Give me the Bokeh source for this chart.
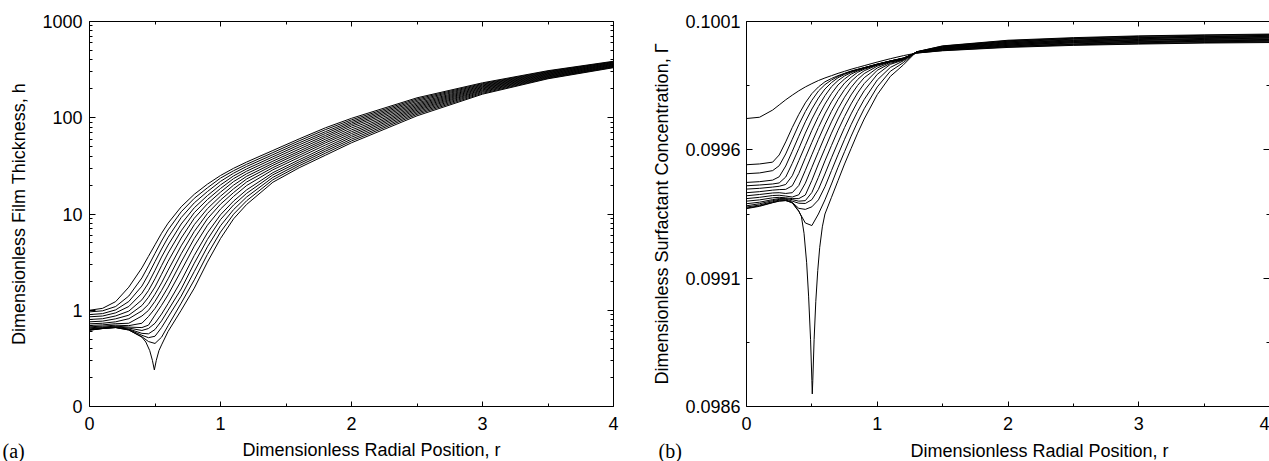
import numpy as np
from bokeh.plotting import figure
from bokeh.layouts import row, column
from bokeh.models import (Range1d, FixedTicker, LinearAxis, LogAxis,
                          CustomJSTickFormatter, PrintfTickFormatter, Label)
from bokeh.embed import file_html
from bokeh.resources import INLINE

FONT = "Liberation Sans"
SERIF = "Liberation Serif"

# ---------------- panel (a): film thickness h (values given as log10 h) ----------------
r_h = [0, 0.1, 0.2, 0.3, 0.4, 0.45, 0.5, 0.55, 0.6, 0.7, 0.8, 0.9, 1.0, 1.1, 1.2,
       1.4, 1.6, 1.8, 2.0, 2.5, 3.0, 3.5, 4.0]
r_h_dip = [0, 0.1, 0.2, 0.3, 0.4, 0.43, 0.46, 0.48, 0.495, 0.51, 0.53, 0.55, 0.6, 0.7,
           0.8, 0.9, 1.0, 1.1, 1.2, 1.4, 1.6, 1.8, 2.0, 2.5, 3.0, 3.5, 4.0]
log10_h_dip = [-0.207, -0.19, -0.18, -0.205, -0.28, -0.33, -0.42, -0.52, -0.62, -0.52, -0.42,
               -0.36, -0.22, 0.0, 0.23, 0.5, 0.745, 0.95, 1.10, 1.33, 1.48, 1.61, 1.74, 2.02,
               2.245, 2.405, 2.52]
log10_h_1 = [-0.207, -0.19, -0.18, -0.205, -0.275, -0.325, -0.345, -0.28, -0.16, 0.074, 0.316, 0.58, 0.812, 0.998, 1.138, 1.356, 1.501, 1.631, 1.759, 2.035, 2.254, 2.411, 2.525]
log10_h_2 = [-0.203, -0.188, -0.178, -0.2, -0.26, -0.285, -0.27, -0.18, -0.07, 0.147, 0.403, 0.659, 0.878, 1.046, 1.177, 1.381, 1.522, 1.652, 1.778, 2.049, 2.264, 2.417, 2.53]
log10_h_3 = [-0.2, -0.186, -0.176, -0.195, -0.24, -0.245, -0.2, -0.11, 0.0, 0.221, 0.489, 0.735, 0.942, 1.094, 1.215, 1.407, 1.542, 1.672, 1.798, 2.063, 2.273, 2.423, 2.534]
log10_h_4 = [-0.193, -0.182, -0.172, -0.185, -0.21, -0.19, -0.135, -0.04, 0.07, 0.306, 0.57, 0.804, 0.992, 1.134, 1.251, 1.43, 1.563, 1.693, 1.817, 2.077, 2.282, 2.429, 2.539]
log10_h_5 = [-0.182, -0.175, -0.165, -0.175, -0.18, -0.155, -0.05, 0.051, 0.161, 0.411, 0.666, 0.883, 1.051, 1.183, 1.296, 1.459, 1.588, 1.716, 1.836, 2.09, 2.29, 2.435, 2.544]
log10_h_6 = [-0.172, -0.165, -0.155, -0.16, -0.135, -0.066, 0.019, 0.126, 0.241, 0.501, 0.746, 0.95, 1.102, 1.223, 1.333, 1.482, 1.61, 1.738, 1.855, 2.103, 2.299, 2.441, 2.549]
log10_h_7 = [-0.158, -0.152, -0.14, -0.135, -0.06, -0.002, 0.093, 0.205, 0.327, 0.587, 0.819, 1.005, 1.145, 1.262, 1.364, 1.506, 1.632, 1.757, 1.874, 2.116, 2.307, 2.447, 2.554]
log10_h_8 = [-0.141, -0.135, -0.12, -0.088, -0.006, 0.061, 0.166, 0.284, 0.416, 0.669, 0.889, 1.055, 1.185, 1.3, 1.392, 1.527, 1.652, 1.777, 1.894, 2.129, 2.315, 2.453, 2.558]
log10_h_9 = [-0.12, -0.113, -0.089, -0.051, 0.049, 0.135, 0.242, 0.374, 0.508, 0.75, 0.956, 1.106, 1.227, 1.337, 1.419, 1.549, 1.674, 1.797, 1.913, 2.142, 2.323, 2.459, 2.563]
log10_h_10 = [-0.096, -0.088, -0.059, -0.009, 0.108, 0.204, 0.327, 0.463, 0.594, 0.825, 1.014, 1.15, 1.265, 1.368, 1.445, 1.572, 1.696, 1.816, 1.93, 2.155, 2.331, 2.465, 2.568]
log10_h_11 = [-0.068, -0.06, -0.027, 0.039, 0.177, 0.283, 0.415, 0.553, 0.677, 0.896, 1.065, 1.191, 1.302, 1.396, 1.469, 1.594, 1.718, 1.836, 1.946, 2.169, 2.339, 2.471, 2.573]
log10_h_12 = [-0.045, -0.035, 0.004, 0.091, 0.251, 0.372, 0.505, 0.636, 0.758, 0.963, 1.116, 1.233, 1.339, 1.424, 1.494, 1.616, 1.739, 1.855, 1.962, 2.182, 2.347, 2.477, 2.578]
log10_h_13 = [-0.017, -0.006, 0.039, 0.148, 0.336, 0.461, 0.591, 0.719, 0.835, 1.023, 1.163, 1.272, 1.373, 1.45, 1.517, 1.638, 1.76, 1.876, 1.978, 2.195, 2.355, 2.483, 2.582]
log10_h_14 = [0.0, 0.02, 0.09, 0.24, 0.44, 0.56, 0.68, 0.80, 0.905, 1.075, 1.205, 1.31, 1.40, 1.475, 1.54, 1.66, 1.78, 1.895, 1.994, 2.207, 2.363, 2.489, 2.587]
h_curves = [log10_h_1, log10_h_2, log10_h_3, log10_h_4, log10_h_5, log10_h_6, log10_h_7,
            log10_h_8, log10_h_9, log10_h_10, log10_h_11, log10_h_12, log10_h_13, log10_h_14]

# ---------------- panel (b): surfactant concentration Gamma ----------------
r_g = [0, 0.1, 0.2, 0.25, 0.3, 0.35, 0.4, 0.45, 0.5, 0.55, 0.6, 0.65, 0.7, 0.75, 0.8,
       0.85, 0.9, 1.0, 1.1, 1.2, 1.3, 1.5, 2.0, 2.5, 3.0, 3.5, 4.0]
r_g_dip = [0, 0.1, 0.2, 0.25, 0.3, 0.35, 0.4, 0.42, 0.44, 0.46, 0.475, 0.49, 0.5, 0.503,
           0.507, 0.517, 0.53, 0.545, 0.56, 0.58, 0.6, 0.65, 0.7, 0.75, 0.8, 0.85, 0.9,
           1.0, 1.1, 1.2, 1.3, 1.5, 2.0, 2.5, 3.0, 3.5, 4.0]
gamma_dip = [0.099371, 0.09938, 0.099394, 0.0994, 0.099402, 0.099395, 0.099362, 0.09934,
             0.099275, 0.09916, 0.09903, 0.09886, 0.0987, 0.098649, 0.0987, 0.09886, 0.09901,
             0.09913, 0.09922, 0.0993, 0.09935, 0.099415, 0.09948, 0.099545, 0.099605,
             0.099665, 0.09972, 0.099815, 0.099886, 0.099931, 0.099982, 0.100005, 0.100027,
             0.100037, 0.100044, 0.100048, 0.100051]
gamma_1 = [0.099373, 0.099382, 0.099395, 0.099401, 0.099403, 0.099393, 0.09936, 0.099315, 0.099305, 0.09935, 0.099405, 0.099467, 0.099532, 0.099593, 0.099653, 0.099709, 0.09976, 0.099845, 0.099906, 0.09994, 0.099982, 0.100004, 0.100025, 0.100035, 0.100042, 0.100046, 0.100049]
gamma_2 = [0.099377, 0.099385, 0.099398, 0.099404, 0.099405, 0.099395, 0.099372, 0.099368, 0.099378, 0.099405, 0.099456, 0.099519, 0.099581, 0.099641, 0.099698, 0.09975, 0.099796, 0.099872, 0.099921, 0.099947, 0.099981, 0.100002, 0.100023, 0.100033, 0.100039, 0.100043, 0.100046]
gamma_3 = [0.099382, 0.09939, 0.099402, 0.099407, 0.099408, 0.0994, 0.099392, 0.099391, 0.099406, 0.099446, 0.099506, 0.099569, 0.099629, 0.099687, 0.09974, 0.099788, 0.09983, 0.099894, 0.099933, 0.09995, 0.099981, 0.100001, 0.100021, 0.100031, 0.100037, 0.100041, 0.100044]
gamma_4 = [0.09939, 0.099396, 0.099406, 0.09941, 0.09941, 0.099406, 0.0994, 0.099402, 0.099434, 0.099493, 0.099557, 0.099617, 0.099676, 0.09973, 0.099779, 0.099822, 0.099858, 0.09991, 0.099937, 0.099952, 0.099981, 0.1, 0.100019, 0.100028, 0.100035, 0.100039, 0.100042]
gamma_5 = [0.0994, 0.099405, 0.099413, 0.099415, 0.099413, 0.09941, 0.09941, 0.099424, 0.099481, 0.099545, 0.099605, 0.099665, 0.09972, 0.09977, 0.099814, 0.099851, 0.099881, 0.099919, 0.099941, 0.099953, 0.09998, 0.099998, 0.100017, 0.100026, 0.100033, 0.100037, 0.100039]
gamma_6 = [0.09941, 0.099415, 0.099422, 0.099423, 0.09942, 0.099416, 0.099425, 0.09947, 0.099532, 0.099593, 0.099653, 0.099709, 0.09976, 0.099805, 0.099843, 0.099874, 0.099897, 0.099926, 0.099943, 0.099955, 0.09998, 0.099997, 0.100015, 0.100024, 0.10003, 0.100034, 0.100037]
gamma_7 = [0.099421, 0.099426, 0.099432, 0.099433, 0.09943, 0.099433, 0.099461, 0.09952, 0.099581, 0.099641, 0.099698, 0.09975, 0.099796, 0.099835, 0.099867, 0.09989, 0.099908, 0.09993, 0.099944, 0.099955, 0.09998, 0.099996, 0.100013, 0.100022, 0.100028, 0.100032, 0.100035]
gamma_8 = [0.099433, 0.099437, 0.099443, 0.099445, 0.099446, 0.09946, 0.099508, 0.099569, 0.099629, 0.099687, 0.09974, 0.099787, 0.099827, 0.09986, 0.099883, 0.099902, 0.099914, 0.099931, 0.099944, 0.099956, 0.099979, 0.099994, 0.100011, 0.10002, 0.100026, 0.10003, 0.100032]
gamma_9 = [0.099447, 0.09945, 0.099455, 0.099458, 0.099465, 0.099499, 0.099558, 0.099617, 0.099676, 0.09973, 0.099778, 0.099819, 0.099853, 0.099876, 0.099895, 0.099907, 0.099917, 0.099933, 0.099945, 0.099956, 0.099979, 0.099993, 0.100009, 0.100018, 0.100023, 0.100027, 0.10003]
gamma_10 = [0.09946, 0.099463, 0.099467, 0.099471, 0.099494, 0.099547, 0.099605, 0.099665, 0.09972, 0.099769, 0.099811, 0.099846, 0.09987, 0.099888, 0.099901, 0.09991, 0.099919, 0.099933, 0.099946, 0.099957, 0.099978, 0.099991, 0.100007, 0.100016, 0.100021, 0.100025, 0.100027]
gamma_11 = [0.099473, 0.099476, 0.099482, 0.099495, 0.099537, 0.099594, 0.099653, 0.099709, 0.099759, 0.099802, 0.099837, 0.099862, 0.099881, 0.099894, 0.099904, 0.099912, 0.09992, 0.099933, 0.099946, 0.099957, 0.099978, 0.09999, 0.100005, 0.100013, 0.100019, 0.100023, 0.100025]
gamma_12 = [0.099507, 0.09951, 0.099519, 0.099538, 0.099584, 0.099641, 0.099698, 0.099749, 0.099793, 0.099829, 0.099854, 0.099872, 0.099886, 0.099897, 0.099906, 0.099913, 0.09992, 0.099934, 0.099946, 0.099957, 0.099978, 0.099989, 0.100003, 0.100011, 0.100017, 0.100021, 0.100023]
gamma_13 = [0.099542, 0.099545, 0.099552, 0.09958, 0.099631, 0.099687, 0.099738, 0.099783, 0.099819, 0.099845, 0.099865, 0.099878, 0.099889, 0.099898, 0.099907, 0.099914, 0.09992, 0.099934, 0.099946, 0.099958, 0.099977, 0.099987, 0.100001, 0.100009, 0.100014, 0.100018, 0.10002]
gamma_14 = [0.099722, 0.099727, 0.099755, 0.099775, 0.099795, 0.099813, 0.09983, 0.099845, 0.099858, 0.09987, 0.09988, 0.099889, 0.099898, 0.099906, 0.099914, 0.099921, 0.099928, 0.099942, 0.099955, 0.099967, 0.099977, 0.099986, 0.099999, 0.100007, 0.100012, 0.100016, 0.100018]
g_curves = [gamma_1, gamma_2, gamma_3, gamma_4, gamma_5, gamma_6, gamma_7, gamma_8,
            gamma_9, gamma_10, gamma_11, gamma_12, gamma_13, gamma_14]

# ---------------- ticks ----------------
x_major = [0, 1, 2, 3, 4]
x_minor = [0.5, 1.5, 2.5, 3.5]
h_major = [0.1, 1, 10, 100, 1000]
h_minor = [m * d for d in (0.1, 1, 10, 100) for m in range(2, 10)]
g_major = [0.0986, 0.0991, 0.0996, 0.1001]
g_minor = [0.09885, 0.09935, 0.09985]


def style_axis(ax, major, minor, tin, tmin, show_labels=True, standoff=6):
    ax.ticker = FixedTicker(ticks=major, minor_ticks=minor)
    ax.major_tick_in = tin
    ax.major_tick_out = 0
    ax.minor_tick_in = tmin
    ax.minor_tick_out = 0
    ax.axis_line_color = "black"
    ax.axis_line_width = 1
    ax.major_tick_line_color = "black"
    ax.minor_tick_line_color = "black"
    ax.major_label_text_font = FONT
    ax.major_label_text_color = "black"
    if show_labels:
        ax.major_label_text_font_size = "18px"
        ax.major_label_standoff = standoff
    else:
        ax.major_label_text_font_size = "1px"
        ax.major_label_text_alpha = 0.0
        ax.major_label_standoff = 0
    ax.axis_label_text_font = FONT
    ax.axis_label_text_font_size = "18px"
    ax.axis_label_text_font_style = "normal"
    ax.axis_label_text_color = "black"


# ---------------- figure (a) ----------------
p1 = figure(width=628, height=440, x_range=Range1d(0, 4), y_range=Range1d(0.1, 1000),
            y_axis_type="log", output_backend="svg", toolbar_location=None,
            min_border_left=89, min_border_right=15, min_border_top=21, min_border_bottom=33)
p1.grid.visible = False
p1.outline_line_color = None
p1.background_fill_color = "white"
p1.border_fill_color = "white"

style_axis(p1.xaxis[0], x_major, x_minor, 5, 3, standoff=10)
style_axis(p1.yaxis[0], h_major, h_minor, 6, 3, standoff=7)
p1.yaxis[0].formatter = CustomJSTickFormatter(code="return tick < 0.5 ? '0' : tick.toFixed(0);")
p1.yaxis[0].axis_label = "Dimensionless Film Thickness, h"
p1.yaxis[0].axis_label_standoff = 10
top1 = LinearAxis()
style_axis(top1, x_major, x_minor, 5, 3, show_labels=False)
p1.add_layout(top1, "above")
right1 = LogAxis()
style_axis(right1, h_major, h_minor, 6, 3, show_labels=False)
p1.add_layout(right1, "right")

p1.line(r_h_dip, 10 ** np.array(log10_h_dip), line_color="black", line_width=1)
for c in h_curves:
    p1.line(r_h, 10 ** np.array(c), line_color="black", line_width=1)

# ---------------- figure (b) ----------------
p2 = figure(width=641, height=440, x_range=Range1d(0, 4), y_range=Range1d(0.0986, 0.1001),
            output_backend="svg", toolbar_location=None,
            min_border_left=118, min_border_right=0, min_border_top=21, min_border_bottom=34)
p2.grid.visible = False
p2.outline_line_color = None
p2.background_fill_color = "white"
p2.border_fill_color = "white"

style_axis(p2.xaxis[0], x_major, x_minor, 5, 3, standoff=10)
style_axis(p2.yaxis[0], g_major, g_minor, 6, 3, standoff=6)
p2.yaxis[0].formatter = PrintfTickFormatter(format="%.4f")
p2.yaxis[0].axis_label = "Dimensionless Surfactant Concentration, Γ"
p2.yaxis[0].axis_label_standoff = 10
top2 = LinearAxis()
style_axis(top2, x_major, x_minor, 5, 3, show_labels=False)
p2.add_layout(top2, "above")
right2 = LinearAxis()
style_axis(right2, g_major, g_minor, 6, 3, show_labels=False)
p2.add_layout(right2, "right")

p2.line(r_g_dip, gamma_dip, line_color="black", line_width=1)
for c in g_curves:
    p2.line(r_g, c, line_color="black", line_width=1)

# ---------------- bottom strip with x-axis titles and panel letters ----------------
p3 = figure(width=1269, height=21, x_range=Range1d(0, 1), y_range=Range1d(0, 1),
            output_backend="svg", toolbar_location=None,
            x_axis_location=None, y_axis_location=None,
            min_border_left=0, min_border_right=0, min_border_top=0, min_border_bottom=0)
p3.grid.visible = False
p3.outline_line_color = None
p3.background_fill_color = "white"
p3.border_fill_color = "white"


def add_text(x, y, text, font, size, align):
    p3.add_layout(Label(x=x, y=y, x_units="screen", y_units="screen", text=text,
                        text_align=align, text_baseline="alphabetic", text_font=font,
                        text_font_size=size, text_color="black"))


add_text(371, 12, "Dimensionless Radial Position, r", FONT, "18px", "center")
add_text(1039, 11, "Dimensionless Radial Position, r", FONT, "18px", "center")
add_text(2, 11, "(a)", SERIF, "20px", "left")
add_text(658, 11, "(b)", SERIF, "20px", "left")

layout = column(row(p1, p2), p3)
open("out.html", "w").write(file_html(layout, INLINE))
